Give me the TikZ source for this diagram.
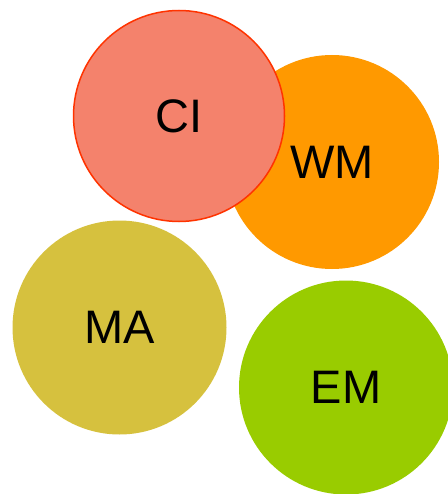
\documentclass[tikz,border=0pt]{standalone}
\usepackage{fontspec}
\setmainfont{Liberation Sans}
\definecolor{wmorange}{RGB}{255,153,0}
\definecolor{ciFill}{RGB}{244,130,108}
\definecolor{ciLine}{RGB}{255,51,0}
\definecolor{maOlive}{RGB}{214,193,62}
\definecolor{emGreen}{RGB}{153,204,0}
\begin{document}
\begin{tikzpicture}[x=1pt,y=-1pt,
  blob/.style={circle, minimum size=214pt, inner sep=0pt, font=\fontsize{47}{50}\selectfont, text=black}]
\useasboundingbox (0,0) rectangle (447,494);
\node[blob, fill=wmorange] (wm) at (332,162) {\raisebox{-3pt}{WM}};
\node[blob, fill=ciFill, draw=ciLine, line width=1.5pt, minimum size=211pt] (ci) at (179,116) {CI};
\node[blob, fill=maOlive] (ma) at (119.5,327.5) {MA};
\node[blob, fill=emGreen] (em) at (346,387.5) {EM};
\end{tikzpicture}
\end{document}
